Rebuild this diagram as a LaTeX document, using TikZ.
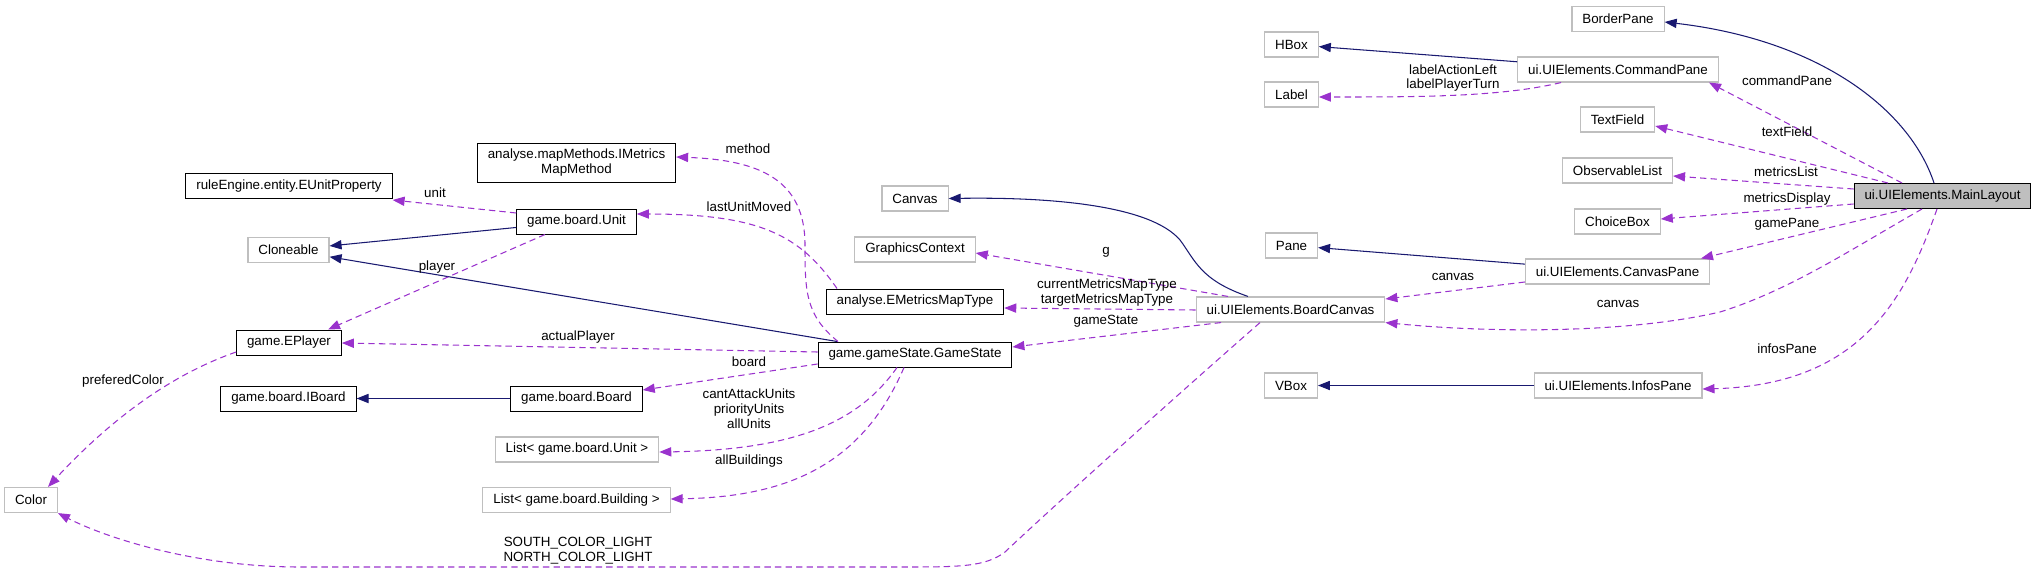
\documentclass[tikz,border=0pt]{standalone}
\usepackage{fontspec}
\setmainfont{Liberation Sans}
\usepackage{xcolor}
\usepackage{tikz}
\usetikzlibrary{arrows.meta,positioning}

\definecolor{edgenavy}{HTML}{191970}
\definecolor{edgeorchid}{HTML}{9A32CD}
\definecolor{boxgray}{HTML}{BFBFBF}

\begin{document}
\begin{tikzpicture}[
    x=0.025cm, y=-0.025cm,
    font=\fontsize{9.5}{10.6}\selectfont,
    cls/.style={rectangle,draw=black,line width=0.7pt,inner xsep=7.4pt,inner ysep=0pt,minimum height=0.625cm},
    extcls/.style={cls,draw=boxgray,line width=0.8pt},
    inherit/.style={-{Triangle[length=3mm,width=2.3mm]},draw=edgenavy,line width=0.75pt},
    member/.style={-{Triangle[length=3mm,width=2.3mm]},draw=edgeorchid,line width=0.75pt,dash pattern=on 4.5pt off 3pt},
    lbl/.style={inner sep=0pt,align=center}
]
\useasboundingbox (0,0) rectangle (2036,572);
\node[extcls] (borderpane) at (1618,19) {BorderPane};
\node[extcls] (hbox) at (1291.5,44.5) {HBox};
\node[extcls] (commandpane) at (1618,69.5) {ui.UIElements.CommandPane};
\node[extcls] (labelbox) at (1291.5,94.5) {Label};
\node[extcls] (textfield) at (1617.5,119.5) {TextField};
\node[extcls] (observablelist) at (1617.5,170.5) {ObservableList};
\node[cls,fill=boxgray] (mainlayout) at (1942.5,196) {ui.UIElements.MainLayout};
\node[extcls] (choicebox) at (1617.5,221.5) {ChoiceBox};
\node[extcls] (pane) at (1291.5,245.5) {Pane};
\node[extcls] (canvaspane) at (1617.5,271.5) {ui.UIElements.CanvasPane};
\node[extcls] (boardcanvas) at (1290.5,309.5) {ui.UIElements.BoardCanvas};
\node[extcls] (vbox) at (1291,385.5) {VBox};
\node[extcls] (infospane) at (1618,385.5) {ui.UIElements.InfosPane};
\node[extcls] (canvas) at (915,198.5) {Canvas};
\node[extcls] (graphicscontext) at (915,249.5) {GraphicsContext};
\node[cls] (emetricsmaptype) at (915,301.5) {analyse.EMetricsMapType};
\node[cls] (gamestate) at (915,354.5) {game.gameState.GameState};
\node[cls,align=center,minimum height=0.975cm] (imetricsmapmethod) at (576.5,162.5) {analyse.mapMethods.IMetrics\\MapMethod};
\node[cls] (eunitproperty) at (289,186) {ruleEngine.entity.EUnitProperty};
\node[cls] (unit) at (576.5,221.5) {game.board.Unit};
\node[extcls] (cloneable) at (288.5,250) {Cloneable};
\node[cls] (eplayer) at (289,342.5) {game.EPlayer};
\node[cls] (iboard) at (288.5,398.5) {game.board.IBoard};
\node[cls] (board) at (576.5,398.5) {game.board.Board};
\node[extcls] (listunit) at (577,449.5) {List< game.board.Unit >};
\node[extcls] (listbuilding) at (576.5,500) {List< game.board.Building >};
\node[extcls] (colorcls) at (31,500) {Color};
\draw[inherit] (1934,0 |- mainlayout.north) .. controls (1910,110) and (1820,40) .. (borderpane.east |- 0,22);
\draw[inherit] (commandpane) -- (hbox);
\draw[inherit] (canvaspane) -- (pane);
\draw[inherit] (infospane) -- (vbox);
\draw[inherit] (1248,0 |- boardcanvas.north) .. controls (1200,280) and (1195,260) .. (1180,240) .. controls (1150,205) and (1050,197) .. (canvas.east);
\draw[inherit] (unit) -- (cloneable);
\draw[inherit] (gamestate) -- (cloneable);
\draw[inherit] (board) -- (iboard);
\draw[member] (1902,0 |- mainlayout.north) -- (1709,0 |- commandpane.south);
\draw[member] (1888,0 |- mainlayout.north) -- (textfield.east |- 0,126);
\draw[member] (mainlayout.west |- 0,189) -- (observablelist.east |- 0,176);
\draw[member] (mainlayout.west |- 0,204) -- (choicebox.east |- 0,219);
\draw[member] (1907,0 |- mainlayout.south) -- (1701,0 |- canvaspane.north);
\draw[member] (1922,0 |- mainlayout.south) .. controls (1850,250) and (1790,290) .. (1720,312) .. controls (1620,335) and (1480,332) .. (boardcanvas.south east);
\draw[member] (1937,0 |- mainlayout.south) .. controls (1905,300) and (1860,385) .. (infospane.east |- 0,389);
\draw[member] (1561,0 |- commandpane.south) .. controls (1500,97) and (1420,97) .. (labelbox.east |- 0,97);
\draw[member] (canvaspane.west |- 0,282) -- (boardcanvas.east |- 0,299);
\draw[member] (1228,0 |- boardcanvas.north) -- (graphicscontext.east |- 0,253);
\draw[member] (boardcanvas.west |- 0,310) -- (emetricsmaptype.east |- 0,308);
\draw[member] (1221,0 |- boardcanvas.south) -- (gamestate.east |- 0,347);
\draw[member] (1260,0 |- boardcanvas.south) .. controls (1200,375) and (1060,500) .. (1005,552) .. controls (985,567) and (960,567) .. (900,567) -- (300,567) .. controls (190,567) and (100,535) .. (colorcls.south east);
\draw[member] (gamestate.west |- 0,352) -- (eplayer.east |- 0,343);
\draw[member] (gamestate.west |- 0,364) -- (board.east |- 0,390);
\draw[member] (897,0 |- gamestate.south) .. controls (860,420) and (800,450) .. (listunit.east |- 0,452);
\draw[member] (904,0 |- gamestate.south) .. controls (860,470) and (780,497) .. (listbuilding.east |- 0,499);
\draw[member] (838,0 |- gamestate.north) .. controls (805,315) and (805,290) .. (805,245) .. controls (805,180) and (760,160) .. (imetricsmapmethod.east |- 0,157);
\draw[member] (837,0 |- emetricsmaptype.north) .. controls (800,235) and (760,214) .. (unit.east |- 0,214);
\draw[member] (unit.west |- 0,213) -- (eunitproperty.east |- 0,200);
\draw[member] (545,0 |- unit.south) -- (328,0 |- eplayer.north);
\draw[member] (eplayer.west |- 0,352) .. controls (170,375) and (110,420) .. (48,0 |- colorcls.north);
\node[lbl] (l-commandpane) at (1787,81) {commandPane};
\node[lbl] (l-textfield) at (1787,132) {textField};
\node[lbl] (l-metricslist) at (1786,172) {metricsList};
\node[lbl] (l-metricsdisplay) at (1787,199) {metricsDisplay};
\node[lbl] (l-gamepane) at (1787,224) {gamePane};
\node[lbl] (l-canvasmain) at (1618,304) {canvas};
\node[lbl] (l-infospane) at (1787,349) {infosPane};
\node[lbl] (l-labels) at (1453,78) {labelActionLeft\\labelPlayerTurn};
\node[lbl] (l-canvaspane) at (1453,277) {canvas};
\node[lbl] (l-g) at (1106,252) {g};
\node[lbl] (l-metricsmap) at (1107,292.5) {currentMetricsMapType\\targetMetricsMapType};
\node[lbl] (l-gamestate) at (1106,321) {gameState};
\node[lbl] (l-colors) at (578,550.5) {SOUTH\_COLOR\_LIGHT\\NORTH\_COLOR\_LIGHT};
\node[lbl] (l-actualplayer) at (578,337) {actualPlayer};
\node[lbl] (l-board) at (749,362) {board};
\node[lbl] (l-units) at (749,408.5) {cantAttackUnits\\priorityUnits\\allUnits};
\node[lbl] (l-allbuildings) at (749,461) {allBuildings};
\node[lbl] (l-method) at (748,149) {method};
\node[lbl] (l-lastunit) at (749,207) {lastUnitMoved};
\node[lbl] (l-unit) at (435,193) {unit};
\node[lbl] (l-player) at (437,267) {player};
\node[lbl] (l-preferedcolor) at (123,381) {preferedColor};
\end{tikzpicture}
\end{document}
